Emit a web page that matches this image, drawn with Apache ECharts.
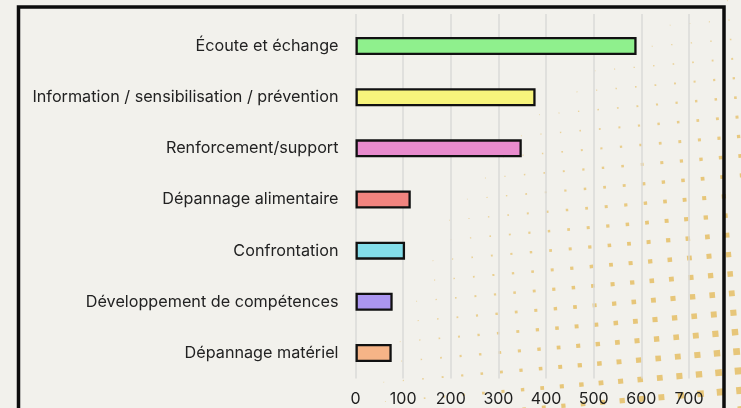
<!DOCTYPE html>
<html>
<head>
<meta charset="utf-8">
<script src="https://cdn.jsdelivr.net/npm/echarts@6/dist/echarts.min.js"></script>
<style>
html,body{margin:0;padding:0;background:#f2f1ec;}
#chart{width:741px;height:408px;}
</style>
</head>
<body>
<div id="chart"></div>
<script>
const categories = [
  "Écoute et échange",
  "Information / sensibilisation / prévention",
  "Renforcement/support",
  "Dépannage alimentaire",
  "Confrontation",
  "Développement de compétences",
  "Dépannage matériel"
];
const values = [590, 378, 349, 116, 104, 78, 76];
const barColors = ["#8ff08d", "#f7f47c", "#e88bcd", "#f2847f", "#83dde9", "#ab96f0", "#f6b487"];
const xTicks = [0, 100, 200, 300, 400, 500, 600, 700];

// decorative dotted background pattern (not data)
function dotPattern() {
  const els = [];
  const ox = 567, oy = 210;
  const ux = 19.6, uy = -1.7, vx = 1.6, vy = 19.4;
  const cx = 900, cy = 500;
  for (let i = -40; i <= 20; i++) {
    for (let j = -20; j <= 20; j++) {
      const x = ox + i * ux + j * vx;
      const y = oy + i * uy + j * vy;
      if (x < -10 || x > 760 || y < -10 || y > 420) continue;
      const d = Math.hypot(cx - x, cy - y);
      const s = 2.5 + (441 - d) * 0.019;
      if (s < 0.8) continue;
      els.push({
        type: 'rect', z: -5, silent: true,
        x: x, y: y, rotation: 0.087,
        shape: { x: -s / 2, y: -s / 2, width: s, height: s },
        style: { fill: '#e7c679', opacity: Math.min(1, 0.55 + s * 0.12) }
      });
    }
  }
  return els;
}

const chart = echarts.init(document.getElementById('chart'), null, { renderer: 'canvas' });
const FONT = 'Inter, "Noto Sans", sans-serif';
chart.setOption({
  backgroundColor: '#f2f1ec',
  animation: false,
  textStyle: { fontFamily: FONT },
  grid: [
    { left: 355.5, right: 52, top: 20.5, bottom: 29.5 },
    { left: 355.5, right: 52, top: 14, bottom: 29.5 }
  ],
  xAxis: [
    {
      type: 'value', gridIndex: 0, min: 0, max: 700, interval: 100,
      axisLine: { show: false }, axisTick: { show: false },
      splitLine: { show: false },
      axisLabel: {
        fontSize: 16, color: '#1e1e1e', margin: 13, fontFamily: FONT,
        formatter: v => (xTicks.indexOf(v) >= 0 ? String(v) : '')
      }
    },
    {
      type: 'value', gridIndex: 1, min: 0, max: 700, interval: 100,
      axisLine: { show: false }, axisTick: { show: false }, axisLabel: { show: false },
      splitLine: { show: true, lineStyle: { color: '#dadad8', width: 1.5 } }
    }
  ],
  yAxis: [
    {
      type: 'category', gridIndex: 0, data: categories, inverse: true,
      axisLine: { show: false }, axisTick: { show: false },
      axisLabel: { fontSize: 16.2, color: '#222', margin: 17, fontFamily: FONT }
    },
    { type: 'value', gridIndex: 1, show: false }
  ],
  series: [{
    type: 'bar', xAxisIndex: 0, yAxisIndex: 0,
    barWidth: 18,
    data: values.map((v, i) => ({ value: v, itemStyle: { color: barColors[i] } })),
    itemStyle: { borderColor: '#111', borderWidth: 2.3 }
  }],
  graphic: dotPattern().concat([{
    type: 'rect', z: 100, silent: true,
    shape: { x: 18.5, y: 7, width: 705.5, height: 460 },
    style: { fill: 'none', stroke: '#0d0d0d', lineWidth: 3.5 }
  }])
});
</script>
</body>
</html>
